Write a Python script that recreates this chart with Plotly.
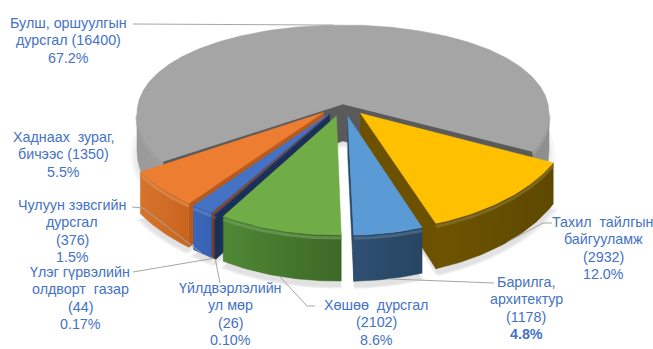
import numpy as np
import plotly.graph_objects as go

# ---------------- data (clockwise from the first slice) ----------------
names = ["Тахил\u00a0 тайлгын<br>байгууламж", "Барилга,<br>архитектур", "Хөшөө\u00a0 дурсгал",
         "Үйлдвэрлэлийн<br>ул мөр", "Үлэг гүрвэлийн<br>олдворт\u00a0 газар",
         "Чулуун зэвсгийн<br>дурсгал", "Хаднаах\u00a0 зураг,<br>бичээс", "Булш, оршуулгын<br>дурсгал"]
counts = [2932, 1178, 2102, 26, 44, 376, 1350, 16400]
pct_text = ["12.0%", "<b>4.8%</b>", "8.6%", "0.10%", "0.17%", "1.5%", "5.5%", "67.2%"]
count_sep = ["<br>", "<br>", "<br>", "<br>", "<br>", "<br>", " ", " "]
exploded = [True, True, True, True, True, True, True, False]

# ---------------- styling ----------------
top_colors = ["#FFC000", "#5B9BD5", "#70AD47", "#264478", "#9E480E", "#4472C4", "#ED7D31", "#A5A5A5"]
wall_start = ["#5E4800", "#274463", "#3D6826", "#1C3563", "#853C0B", "#3762B4", "#C9641F", "#9C9C9C"]
wall_end   = ["#6E5400", "#2E5072", "#4F8835", "#1C3563", "#853C0B", "#3A67BA", "#D6742B", "#8E8E8E"]
face_colors = ["#6C5200", "#2A4A6B", "#3F6B28", "#1A3058", "#7A370A", "#2E56A2", "#B85A1C", "#5A5A5A"]
label_xy = [(603, 248), (526, 308), (376, 322), (230, 314), (80, 298), (72, 231), (63, 154), (68, 40)]
leader_from = [[(552, 223), (543, 223)], [(494, 283)], [(315, 306), (307, 306)], [(220, 283)],
               [(133, 272)], [(132, 207), (143, 208)], None, [(133, 24)]]
TEXT_COLOR = "#4472C4"
LEADER_COLOR = "#A6A6A6"
FONT_SIZE = 14.3
LINE_H = 17.5

W, H = 653, 349
CX, CY = 343.0, 104.0
RX, RY = 205.0, 93.0
PX, PY = 0.10, 0.177
DEPTH = 37.0
PULL = 0.13
START = 118.0


def project(X, Y, z):
    sx = 1.0 / (1.0 + PX * Y)
    sy = 1.0 / (1.0 + PY * Y)
    return CX + RX * X * sx, CY - RY * Y * sy + DEPTH * z * sy


def hex_rgb(c):
    c = c.lstrip("#")
    return np.array([int(c[i:i + 2], 16) for i in (0, 2, 4)], dtype=float)


def mix(c1, c2, t):
    v = hex_rgb(c1) * (1 - t) + hex_rgb(c2) * t
    return "rgb(%d,%d,%d)" % tuple(np.round(np.clip(v, 0, 255)))


total = float(sum(counts))
spans = [360.0 * c / total for c in counts]
bounds = START + np.concatenate([[0], np.cumsum(spans)])

slices = []
for i in range(len(counts)):
    a0, a1 = bounds[i], bounds[i + 1]
    mid = 0.5 * (a0 + a1)
    if exploded[i]:
        ox, oy = PULL * np.sin(np.radians(mid)), PULL * np.cos(np.radians(mid))
    else:
        ox, oy = 0.0, 0.0
    slices.append(dict(i=i, a0=a0, a1=a1, mid=mid, ox=ox, oy=oy))


def rim(sl, theta, z, scale=1.0):
    t = np.radians(theta)
    return project(sl["ox"] + scale * np.sin(t), sl["oy"] + scale * np.cos(t), z)


def apex(sl, z):
    return project(sl["ox"], sl["oy"], z)


def arc(sl, lo, hi, z, scale=1.0):
    n = max(2, int(abs(hi - lo) / 1.0) + 2)
    th = np.linspace(lo, hi, n)
    pts = [rim(sl, t, z, scale) for t in th]
    return [p[0] for p in pts], [p[1] for p in pts]


fig = go.Figure()

# soft shadow under the pie
for dy, grow, alpha in [(3, 0.03, 0.05), (5, 0.015, 0.06), (6, 0.0, 0.07)]:
    xs, ys = [], []
    for sl in slices:
        ax_, ay_ = apex(sl, 1)
        px, py = arc(sl, sl["a0"], sl["a1"], 1, 1 + grow)
        xs += [ax_] + px + [ax_, None]
        ys += [ay_ + dy] + [y + dy for y in py] + [ay_ + dy, None]
    fig.add_trace(go.Scatter(x=xs, y=ys, mode="lines", fill="toself", line=dict(width=0),
                             fillcolor="rgba(90,90,90,%.3f)" % alpha, hoverinfo="skip", showlegend=False))

vis_lo = np.degrees(np.arccos(-PX))
vis_hi = 360.0 - vis_lo


def signed_area(pts):
    a = 0.0
    for j in range(len(pts)):
        x1, y1 = pts[j]
        x2, y2 = pts[(j + 1) % len(pts)]
        a += x1 * y2 - x2 * y1
    return a


order = sorted(slices, key=lambda s: -(s["oy"] + np.cos(np.radians(s["mid"]))))
for sl in order:
    i = sl["i"]
    # radial cut faces
    for ang, sign in ((sl["a0"], -1), (sl["a1"], 1)):
        quad = [apex(sl, 0), rim(sl, ang, 0), rim(sl, ang, 1), apex(sl, 1)]
        if sign * signed_area(quad) > 0:
            fig.add_trace(go.Scatter(x=[q[0] for q in quad] + [quad[0][0]],
                                     y=[q[1] for q in quad] + [quad[0][1]],
                                     mode="lines", fill="toself", fillcolor=face_colors[i],
                                     line=dict(width=0.5, color=face_colors[i]),
                                     hoverinfo="skip", showlegend=False))
    # outer wall, only the part turned towards the viewer
    for k in (0, 1):
        lo = max(sl["a0"], vis_lo + 360 * k)
        hi = min(sl["a1"], vis_hi + 360 * k)
        if hi <= lo:
            continue
        tx, ty = arc(sl, lo, hi, 0)
        bx, by = arc(sl, lo, hi, 1)
        span = sl["a1"] - sl["a0"]
        c_lo = mix(wall_start[i], wall_end[i], (lo - sl["a0"]) / span)
        c_hi = mix(wall_start[i], wall_end[i], (hi - sl["a0"]) / span)
        x_lo, x_hi = tx[0], tx[-1]
        if x_lo < x_hi:
            scale_cols, g0, g1 = [[0, c_lo], [1, c_hi]], x_lo, x_hi
        else:
            scale_cols, g0, g1 = [[0, c_hi], [1, c_lo]], x_hi, x_lo
        if abs(g1 - g0) < 1:
            g1 = g0 + 1
        fig.add_trace(go.Scatter(x=tx + bx[::-1] + [tx[0]], y=ty + by[::-1] + [ty[0]],
                                 mode="lines", fill="toself", fillcolor=c_lo,
                                 fillgradient=dict(type="horizontal", colorscale=scale_cols,
                                                   start=g0, stop=g1),
                                 line=dict(width=0.5, color=c_lo),
                                 hoverinfo="skip", showlegend=False))
        # bevel highlight along the upper edge of the wall
        hx, hy = arc(sl, lo, hi, 0.07)
        fig.add_trace(go.Scatter(x=hx, y=hy, mode="lines",
                                 line=dict(width=3, color=mix(wall_end[i], "#FFFFFF", 0.18)),
                                 opacity=0.7, hoverinfo="skip", showlegend=False))
    # top face
    ax_, ay_ = apex(sl, 0)
    px, py = arc(sl, sl["a0"], sl["a1"], 0)
    fig.add_trace(go.Scatter(x=[ax_] + px + [ax_], y=[ay_] + py + [ay_],
                             mode="lines", fill="toself", fillcolor=top_colors[i],
                             line=dict(width=0.5, color=top_colors[i]),
                             hoverinfo="skip", showlegend=False))

# leader lines and data labels
for sl in slices:
    i = sl["i"]
    if leader_from[i] is not None:
        front = np.cos(np.radians(sl["mid"])) < 0
        end = rim(sl, sl["mid"], 1 if front else 0)
        pts = leader_from[i] + [end]
        fig.add_trace(go.Scatter(x=[p[0] for p in pts], y=[p[1] for p in pts], mode="lines",
                                 line=dict(color=LEADER_COLOR, width=1),
                                 hoverinfo="skip", showlegend=False))
    text = "%s%s(%d)<br>%s" % (names[i], count_sep[i], counts[i], pct_text[i])
    lines = text.split("<br>")
    n = len(lines)
    for j, line in enumerate(lines):
        fig.add_annotation(x=label_xy[i][0], y=label_xy[i][1] + (j - (n - 1) / 2) * LINE_H,
                           xref="x", yref="y", text=line, showarrow=False,
                           xanchor="center", yanchor="middle",
                           font=dict(family="Liberation Sans, Arial, sans-serif", size=FONT_SIZE,
                                     color=TEXT_COLOR))

fig.update_layout(
    width=W, height=H, margin=dict(l=0, r=0, t=0, b=0),
    paper_bgcolor="white", plot_bgcolor="white", showlegend=False,
    xaxis=dict(range=[0, W], visible=False, fixedrange=True),
    yaxis=dict(range=[H, 0], visible=False, fixedrange=True),
)
fig.write_html("out.html", config={"displayModeBar": False})
